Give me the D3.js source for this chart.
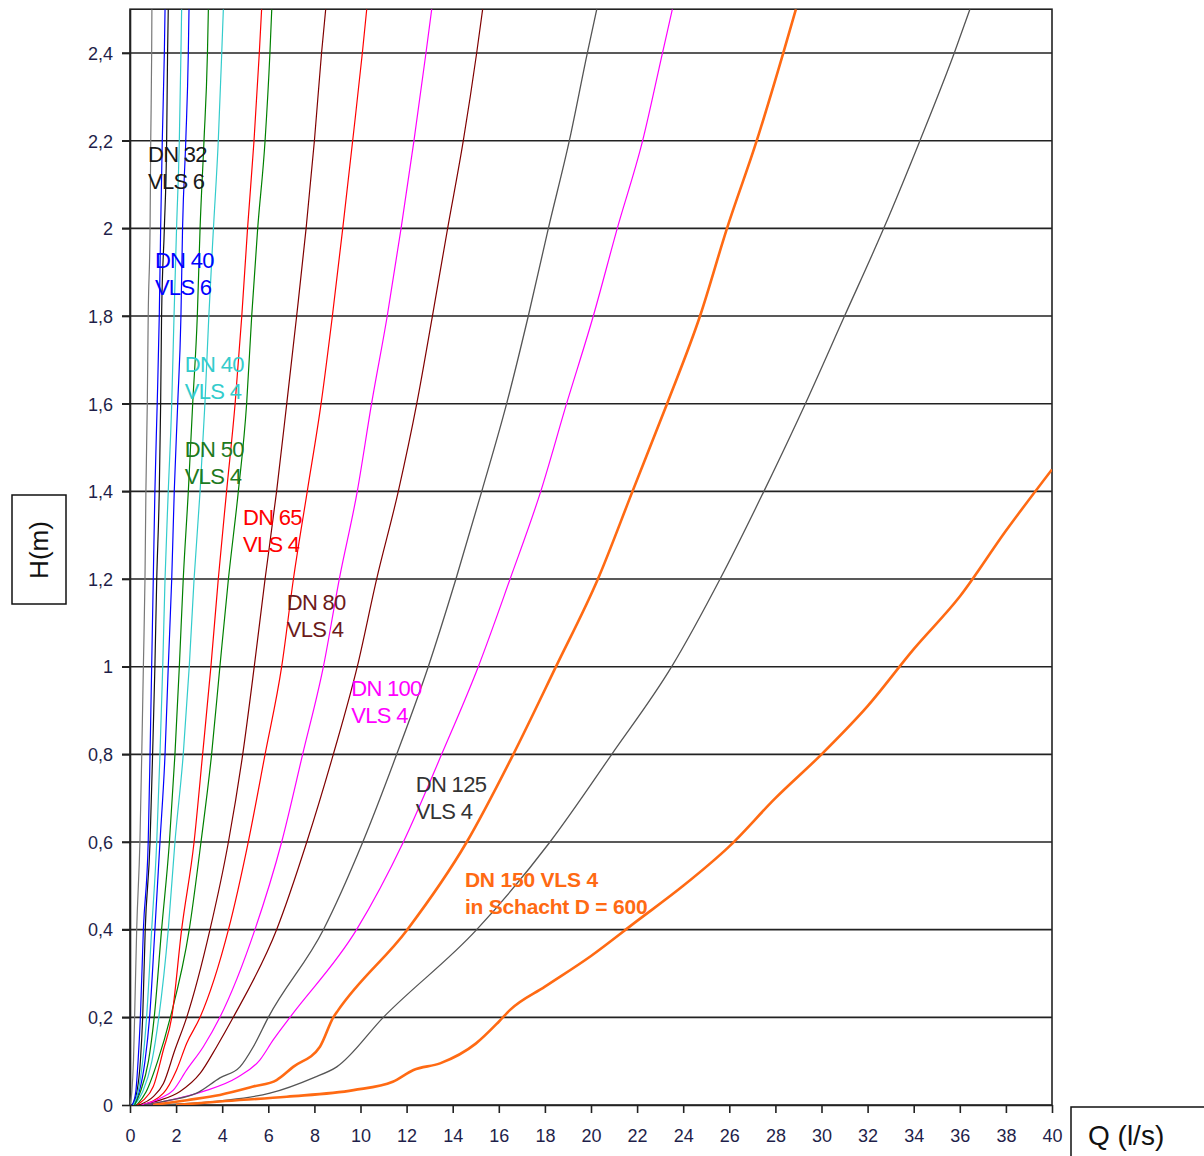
<!DOCTYPE html>
<html>
<head>
<meta charset="utf-8">
<script src="https://cdn.jsdelivr.net/npm/d3@7"></script>
<style>
  body { margin: 0; background: #fff; }
  svg { display: block; font-family: "Liberation Sans", Arial, sans-serif; }
</style>
</head>
<body>
<div id="chart"></div>
<script>
// ticks
const xTicks = d3.range(0, 41, 2);
const yTicks = [0, 0.2, 0.4, 0.6, 0.8, 1, 1.2, 1.4, 1.6, 1.8, 2, 2.2, 2.4];

// curves, each point is [Q (l/s), H (m)]
const dn32a = [[0,0],[0.08,0.03],[0.15,0.1],[0.2,0.2],[0.29,0.4],[0.43,0.6],[0.51,0.8],[0.58,1.0],[0.65,1.2],[0.69,1.4],[0.75,1.6],[0.79,1.8],[0.87,2.0],[0.9,2.2],[0.94,2.4],[0.95,2.5]];
const dn32b = [[0.1,0],[0.3,0.03],[0.45,0.1],[0.55,0.2],[0.66,0.4],[0.87,0.6],[0.98,0.8],[1.08,1.0],[1.16,1.2],[1.27,1.4],[1.33,1.6],[1.37,1.8],[1.49,2.0],[1.59,2.2],[1.63,2.4],[1.66,2.5]];
const dn40v6a = [[0.1,0],[0.25,0.03],[0.35,0.1],[0.45,0.2],[0.58,0.4],[0.79,0.6],[0.87,0.8],[0.94,1.0],[1.01,1.2],[1.08,1.4],[1.18,1.6],[1.27,1.8],[1.33,2.0],[1.4,2.2],[1.49,2.4],[1.52,2.5]];
const dn40v6b = [[0.15,0],[0.4,0.03],[0.65,0.1],[0.85,0.2],[1.08,0.4],[1.3,0.6],[1.52,0.8],[1.66,1.0],[1.81,1.2],[1.92,1.4],[2.07,1.6],[2.21,1.8],[2.28,2.0],[2.42,2.2],[2.53,2.4],[2.56,2.5]];
const dn40v4a = [[0.15,0],[0.35,0.03],[0.55,0.1],[0.72,0.2],[0.94,0.4],[1.16,0.6],[1.3,0.8],[1.42,1.0],[1.52,1.2],[1.66,1.4],[1.81,1.6],[1.91,1.8],[2.02,2.0],[2.14,2.2],[2.21,2.4],[2.24,2.5]];
const dn40v4b = [[0.2,0],[0.55,0.03],[0.95,0.1],[1.25,0.2],[1.66,0.4],[1.95,0.6],[2.31,0.8],[2.57,1.0],[2.78,1.2],[3.04,1.4],[3.25,1.6],[3.42,1.8],[3.62,2.0],[3.83,2.2],[3.98,2.4],[4.05,2.5]];
const dn50a = [[0.2,0],[0.45,0.03],[0.8,0.1],[1.05,0.2],[1.37,0.4],[1.71,0.6],[1.95,0.8],[2.14,1.0],[2.31,1.2],[2.53,1.4],[2.72,1.6],[2.92,1.8],[3.04,2.0],[3.21,2.2],[3.36,2.4],[3.4,2.5]];
const dn50b = [[0.3,0],[0.7,0.03],[1.2,0.1],[1.75,0.2],[2.57,0.4],[3.08,0.6],[3.54,0.8],[3.9,1.0],[4.27,1.2],[4.7,1.4],[5.06,1.6],[5.28,1.8],[5.54,2.0],[5.86,2.2],[6.07,2.4],[6.15,2.5]];
const dn65a = [[0.3,0],[0.58,0.011],[1.01,0.042],[1.45,0.126],[1.81,0.2],[2.24,0.4],[2.78,0.6],[3.15,0.8],[3.51,1.0],[3.83,1.2],[4.19,1.4],[4.56,1.6],[4.85,1.8],[5.1,2.0],[5.38,2.2],[5.61,2.4],[5.71,2.5]];
const dn65b = [[0.5,0],[1.45,0.027],[2.02,0.08],[2.46,0.141],[3.04,0.2],[4.27,0.4],[5.13,0.6],[5.86,0.8],[6.58,1.0],[7.09,1.2],[7.69,1.4],[8.29,1.6],[8.78,1.8],[9.23,2.0],[9.66,2.2],[10.08,2.4],[10.27,2.5]];
const dn80a = [[0.4,0],[1.01,0.019],[1.45,0.049],[1.95,0.126],[2.46,0.2],[3.47,0.4],[4.27,0.6],[4.89,0.8],[5.39,1.0],[5.86,1.2],[6.36,1.4],[6.8,1.6],[7.23,1.8],[7.64,2.0],[8.0,2.2],[8.31,2.4],[8.49,2.5]];
const dn80b = [[0.5,0],[1.3,0.011],[2.17,0.031],[3.04,0.072],[3.76,0.133],[4.48,0.2],[6.36,0.4],[7.67,0.6],[8.82,0.8],[9.86,1.0],[10.7,1.2],[11.64,1.4],[12.44,1.6],[13.12,1.8],[13.78,2.0],[14.46,2.2],[15.04,2.4],[15.3,2.5]];
const dn100a = [[0.5,0],[1.3,0.015],[1.88,0.034],[2.46,0.08],[3.18,0.133],[3.9,0.2],[5.42,0.4],[6.58,0.6],[7.49,0.8],[8.39,1.0],[9.08,1.2],[9.86,1.4],[10.48,1.6],[11.16,1.8],[11.76,2.0],[12.32,2.2],[12.84,2.4],[13.09,2.5]];
const dn100b = [[0.6,0],[1.74,0.011],[3.18,0.031],[4.63,0.062],[5.64,0.103],[6.22,0.149],[6.94,0.2],[9.83,0.4],[11.86,0.6],[13.52,0.8],[15.11,1.0],[16.49,1.2],[17.82,1.4],[18.94,1.6],[20.1,1.8],[21.14,2.0],[22.24,2.2],[23.1,2.4],[23.53,2.5]];
const dn125a = [[0.6,0],[1.74,0.011],[2.89,0.027],[3.9,0.062],[4.77,0.087],[5.35,0.133],[6.0,0.2],[8.39,0.4],[10.1,0.6],[11.57,0.8],[12.94,1.0],[14.14,1.2],[15.26,1.4],[16.34,1.6],[17.28,1.8],[18.15,2.0],[19.06,2.2],[19.84,2.4],[20.25,2.5]];
const dn125b = [[1,0],[4,0.01],[6.07,0.027],[7.95,0.062],[8.97,0.087],[10.99,0.2],[15.04,0.4],[18.22,0.6],[20.9,0.8],[23.5,1.0],[25.6,1.2],[27.5,1.4],[29.3,1.6],[31.0,1.8],[32.7,2.0],[34.27,2.2],[35.76,2.4],[36.44,2.5]];
const dn150a = [[1,0],[2.46,0.011],[3.9,0.023],[5.35,0.042],[6.36,0.057],[7.08,0.087],[8.24,0.133],[8.82,0.2],[9.04,0.217],[12.03,0.4],[14.61,0.6],[16.63,0.8],[18.48,1.0],[20.3,1.2],[21.8,1.4],[23.3,1.6],[24.73,1.8],[25.9,2.0],[27.19,2.2],[28.34,2.4],[28.89,2.5]];
const dn150schacht = [[2,0],[3.9,0.008],[6.8,0.019],[9.7,0.034],[11.4,0.053],[12.3,0.08],[13.45,0.095],[15,0.14],[16,0.19],[16.49,0.217],[18,0.27],[20,0.34],[22,0.42],[24,0.5],[26,0.59],[28,0.7],[30,0.8],[32,0.91],[34,1.04],[36,1.16],[38,1.31],[40,1.45]];

const series = [
    {data: dn32a, color: "#777777", width: 1.2},
    {data: dn32b, color: "#111111", width: 1.2},
    {data: dn40v6a, color: "#0000ff", width: 1.2},
    {data: dn40v6b, color: "#0000ff", width: 1.2},
    {data: dn40v4a, color: "#33cccc", width: 1.2},
    {data: dn40v4b, color: "#33cccc", width: 1.2},
    {data: dn50a, color: "#008000", width: 1.2},
    {data: dn50b, color: "#008000", width: 1.2},
    {data: dn65a, color: "#ff0000", width: 1.2},
    {data: dn65b, color: "#ff0000", width: 1.2},
    {data: dn80a, color: "#800000", width: 1.2},
    {data: dn80b, color: "#800000", width: 1.2},
    {data: dn100a, color: "#ff00ff", width: 1.2},
    {data: dn100b, color: "#ff00ff", width: 1.2},
    {data: dn125a, color: "#555555", width: 1.3},
    {data: dn125b, color: "#555555", width: 1.3},
    {data: dn150a, color: "#ff6a13", width: 2.6},
    {data: dn150schacht, color: "#ff6a13", width: 2.6}
];

// curve labels (two lines each), anchored at the first line's baseline
const labels = [
    {q: 0.78, h: 2.152, lines: ["DN 32", "VLS 6"], color: "#1a1a1a"},
    {q: 1.08, h: 1.91, lines: ["DN 40", "VLS 6"], color: "#0000ff"},
    {q: 2.38, h: 1.673, lines: ["DN 40", "VLS 4"], color: "#33cccc"},
    {q: 2.38, h: 1.479, lines: ["DN 50", "VLS 4"], color: "#1e7a1e"},
    {q: 4.9, h: 1.324, lines: ["DN 65", "VLS 4"], color: "#ff0000"},
    {q: 6.8, h: 1.13, lines: ["DN 80", "VLS 4"], color: "#6b1a1a"},
    {q: 9.6, h: 0.934, lines: ["DN 100", "VLS 4"], color: "#ff00ff"},
    {q: 12.4, h: 0.714, lines: ["DN 125", "VLS 4"], color: "#333333"},
    {q: 14.53, h: 0.498, lines: ["DN 150 VLS 4", "in Schacht D = 600"], color: "#ff6a13", bold: true}
];

class PipeChart {
    constructor(parentElement) {
        this.parentElement = parentElement;
        this.initVis();
    }

    initVis() {
        let vis = this;

        vis.width = 1204;
        vis.height = 1156;

        vis.svg = d3.select("#" + vis.parentElement).append("svg")
            .attr("width", vis.width)
            .attr("height", vis.height);

        vis.x = d3.scaleLinear().domain([0, 40]).range([130, 1052]);
        vis.y = d3.scaleLinear().domain([0, 2.5]).range([1105, 9.2]);

        // gridlines
        vis.svg.append("g")
            .selectAll("line")
            .data(yTicks.filter(d => d > 0))
            .join("line")
            .attr("x1", vis.x(0) - 8)
            .attr("x2", vis.x(40))
            .attr("y1", d => vis.y(d))
            .attr("y2", d => vis.y(d))
            .attr("stroke", "#222")
            .attr("stroke-width", 1.6);

        // frame
        vis.svg.append("rect")
            .attr("x", vis.x(0))
            .attr("y", vis.y(2.5))
            .attr("width", vis.x(40) - vis.x(0))
            .attr("height", vis.y(0) - vis.y(2.5))
            .attr("fill", "none")
            .attr("stroke", "#222")
            .attr("stroke-width", 1.6);

        // axes
        vis.xAxis = d3.axisBottom(vis.x).tickValues(xTicks).tickSize(8).tickSizeOuter(0);
        vis.yAxis = d3.axisLeft(vis.y).tickValues(yTicks)
            .tickSize(8).tickSizeOuter(0)
            .tickFormat(d => String(d).replace(".", ","));

        let gx = vis.svg.append("g")
            .attr("transform", "translate(0," + vis.y(0) + ")")
            .call(vis.xAxis);
        let gy = vis.svg.append("g")
            .attr("transform", "translate(" + vis.x(0) + ",0)")
            .call(vis.yAxis);

        [gx, gy].forEach(g => {
            g.select(".domain").attr("stroke", "#222").attr("stroke-width", 1.6);
            g.selectAll(".tick line").attr("stroke", "#222").attr("stroke-width", 1.6);
            g.selectAll(".tick text")
                .attr("fill", "#1f1f4a")
                .attr("font-size", 18)
                .attr("font-family", "Liberation Sans, Arial, sans-serif");
        });
        gx.selectAll(".tick text").attr("dy", "1.45em");
        gy.selectAll(".tick text").attr("x", -17).attr("dy", "0.35em");

        // axis title boxes
        vis.svg.append("rect")
            .attr("x", 12).attr("y", 495).attr("width", 54).attr("height", 109)
            .attr("fill", "none").attr("stroke", "#111").attr("stroke-width", 1.5);
        vis.svg.append("text")
            .attr("transform", "translate(48,550) rotate(-90)")
            .attr("text-anchor", "middle")
            .attr("font-size", 26)
            .attr("fill", "#111")
            .text("H(m)");

        vis.svg.append("rect")
            .attr("x", 1071).attr("y", 1107).attr("width", 140).attr("height", 60)
            .attr("fill", "none").attr("stroke", "#111").attr("stroke-width", 1.5);
        vis.svg.append("text")
            .attr("x", 1088).attr("y", 1145)
            .attr("font-size", 28)
            .attr("fill", "#111")
            .text("Q (l/s)");

        vis.svg.append("clipPath").attr("id", "plot-clip")
            .append("rect")
            .attr("x", vis.x(0)).attr("y", vis.y(2.5))
            .attr("width", vis.x(40) - vis.x(0))
            .attr("height", vis.y(0) - vis.y(2.5));

        vis.plot = vis.svg.append("g").attr("clip-path", "url(#plot-clip)");

        vis.updateVis();
    }

    updateVis() {
        let vis = this;

        let line = d3.line()
            .x(d => vis.x(d[0]))
            .y(d => vis.y(d[1]))
            .curve(d3.curveMonotoneX);

        vis.plot.selectAll("path.curve")
            .data(series)
            .join("path")
            .attr("class", "curve")
            .attr("d", d => line(d.data))
            .attr("fill", "none")
            .attr("stroke", d => d.color)
            .attr("stroke-width", d => d.width)
            .attr("stroke-linejoin", "round");

        // labels
        let lab = vis.svg.append("g")
            .selectAll("text")
            .data(labels)
            .join("text")
            .attr("x", d => vis.x(d.q))
            .attr("y", d => vis.y(d.h))
            .attr("fill", d => d.color)
            .attr("font-size", d => d.bold ? 21 : 22)
            .attr("font-weight", d => d.bold ? "bold" : "normal")
            .attr("letter-spacing", d => d.bold ? -0.2 : -0.7);

        lab.selectAll("tspan")
            .data(d => d.lines.map(t => ({t: t, x: vis.x(d.q)})))
            .join("tspan")
            .attr("x", d => d.x)
            .attr("dy", (d, i) => i === 0 ? 0 : 27)
            .text(d => d.t);
    }
}

new PipeChart("chart");
</script>
</body>
</html>
